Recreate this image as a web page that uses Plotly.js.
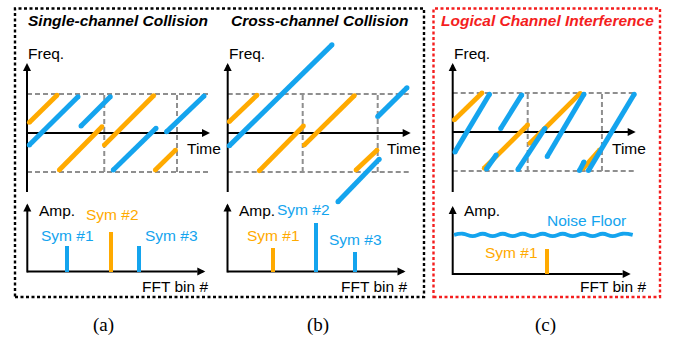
<!DOCTYPE html>
<html>
<head>
<meta charset="utf-8">
<script src="https://cdn.plot.ly/plotly-3.0.1.min.js"></script>
<style>html,body{margin:0;padding:0;background:#fff;}#chart{width:677px;height:337px;}</style>
</head>
<body>
<div id="chart"></div>
<script>
// ---------------- DATA ----------------
// Time in symbol durations, frequency normalised to the channel bandwidth (-1..1)
// Each chirp segment: [start, end]

// (a) Single-channel collision
const aOrangeT = [[0.03,0.40],[0.43,1.00],[1.03,1.69],[1.71,1.98]];
const aOrangeF = [[0.27,0.97],[-0.95,0.16],[-0.31,0.96],[-0.95,-0.44]];
const aBlueT   = [[0.03,0.68],[0.72,1.11],[1.15,1.72],[1.86,2.36]];
const aBlueF   = [[-0.31,0.93],[0.18,0.93],[-0.95,0.12],[0.03,0.95]];
const aSymbolEdges = [1.03, 2.0];

// (b) Cross-channel collision
const bOrangeT = [[0.02,0.39],[0.42,1.01],[1.02,1.69],[1.71,1.99]];
const bOrangeF = [[0.29,0.97],[-0.97,0.18],[-0.31,0.96],[-0.95,-0.44]];
const bBlueT   = [[0.02,1.39],[1.47,2.02],[2.00,2.39]];
const bBlueF   = [[-0.33,2.26],[-1.76,-0.67],[0.42,1.16]];
const bSymbolEdges = [1.0, 2.0];

// (c) Logical channel interference
const cOrangeT = [[0.02,0.39],[0.42,1.00],[1.03,1.70],[1.74,1.96]];
const cOrangeF = [[0.31,1.00],[-0.93,0.18],[-0.29,0.99],[-0.93,-0.46]];
const cBlueT   = [[0.03,0.49],[0.64,0.92],[0.45,0.58],[0.87,1.23],[1.26,1.75],[1.69,1.75],[1.81,2.42]];
const cBlueF   = [[-0.51,0.97],[0.09,0.95],[-0.95,-0.59],[-0.96,0.09],[-0.63,0.97],[-0.99,-0.77],[-0.99,0.97]];
const cSymbolEdges = [1.0, 1.99];

// FFT peaks: bin index and normalised amplitude
const aFftBins = [20, 42, 56];
const aFftAmp  = [0.38, 0.585, 0.38];
const aFftLabels = ['Sym #1','Sym #2','Sym #3'];
const bFftBins = [22.6, 44.3, 63.8];
const bFftAmp  = [0.35, 0.72, 0.28];
const bFftLabels = ['Sym #1','Sym #2','Sym #3'];
const cFftBins = [47];
const cFftAmp  = [0.37];
const cFftLabels = ['Sym #1'];
const noiseBins = [0.7,5,10,15,20,25,30,35,40,45,50,55,60,65,70,75,80,85,90];
const noiseAmp  = [0.575,0.592,0.558,0.592,0.558,0.592,0.558,0.592,0.558,0.592,0.558,0.592,0.558,0.592,0.558,0.592,0.558,0.592,0.575];

const panelTitles = ['Single-channel Collision','Cross-channel Collision','Logical Channel Interference'];
const panelTags = ['(a)','(b)','(c)'];

// ---------------- STYLE / GEOMETRY ----------------
const W = 677, H = 337;
const BLUE = '#14A4EE', ORANGE = '#FFAA00', RED = '#F41E1E', GRAY = '#8f8f8f';
const FONT = 'Liberation Sans, Arial, sans-serif';
const PT = 75, PF = 39;      // px per symbol, px per unit frequency
const PB = 2, PA = 68;       // px per bin, px per unit amplitude
const hidden = {showgrid:false, zeroline:false, showline:false, showticklabels:false, ticks:'', fixedrange:true};

const layout = {
  width: W, height: H, margin:{l:0,r:0,t:0,b:0},
  paper_bgcolor:'#fff', plot_bgcolor:'rgba(0,0,0,0)',
  showlegend:false, shapes:[], annotations:[], bargap:0
};
const traces = [];

function addAxes(n, ox, oy, pxL, pxR, pxT, pxB, sx, sy){
  const xs = n===1 ? '' : String(n);
  layout['xaxis'+xs] = Object.assign({domain:[pxL/W, pxR/W], range:[(pxL-ox)/sx,(pxR-ox)/sx], anchor:'y'+xs}, hidden);
  layout['yaxis'+xs] = Object.assign({domain:[1-pxB/H, 1-pxT/H], range:[(oy-pxB)/sy,(oy-pxT)/sy], anchor:'x'+xs}, hidden);
  return {xa:'x'+xs, ya:'y'+xs};
}

function segTrace(T, F, color, ax, width){
  const x = [], y = [];
  T.forEach((t,i)=>{ x.push(t[0],t[1],null); y.push(F[i][0],F[i][1],null); });
  traces.push({type:'scatter', mode:'lines+markers', x, y, xaxis:ax.xa, yaxis:ax.ya,
    line:{color, width}, marker:{color, size:width}, hoverinfo:'skip', cliponaxis:false});
}

function line(ax, x0,y0,x1,y1, style){
  layout.shapes.push(Object.assign({type:'line', xref:ax.xa, yref:ax.ya, x0,y0,x1,y1, layer:'below'}, style));
}
function arrowHead(ax, x, y, dx, dy){
  layout.annotations.push({xref:ax.xa, yref:ax.ya, x, y, text:' ', font:{size:1}, showarrow:true,
    arrowhead:2, arrowsize:0.8, arrowwidth:2, arrowcolor:'#000', ax:dx, ay:dy, standoff:0});
}
function label(ax, x, y, text, color, anchor){
  layout.annotations.push({xref:ax.xa, yref:ax.ya, x, y, text, showarrow:false, xanchor:anchor||'center', yanchor:'middle',
    font:{family:FONT, size:15.5, color:color||'#000'}});
}

function chirpPanel(n, ox, oy, pxL, pxR, oT, oF, bT, bF, edges){
  const ax = addAxes(n, ox, oy, pxL, pxR, 36, 208, PT, PF);
  const tEnd = 2.42, tTip = 2.44, fTip = (oy-63)/PF, fBot = (oy-192)/PF;
  const dash = {line:{color:GRAY, width:2, dash:'5px,3px'}};
  line(ax, 0, 1, tEnd, 1, dash);
  line(ax, 0, -1, tEnd, -1, dash);
  edges.forEach(e=> line(ax, e, -1, e, 1, dash));
  const solid = {line:{color:'#000', width:2}};
  line(ax, 0, fBot, 0, fTip-0.1, solid);
  line(ax, 0, 0, tTip-0.08, 0, solid);
  arrowHead(ax, 0, fTip, 0, 9);
  arrowHead(ax, tTip, 0, -9, 0);
  label(ax, -0.01, (oy-53)/PF, 'Freq.', '#000', 'left');
  label(ax, 2.10, (oy-148)/PF, 'Time', '#000', 'left');
  segTrace(oT, oF, ORANGE, ax, 4.8);
  segTrace(bT, bF, BLUE, ax, 5);
  return ax;
}

function fftPanel(n, ox, oy, pxL, pxR, bins, amps, colors, labelRight){
  const ax = addAxes(n, ox, oy, pxL, pxR, 190, 302, PB, PA);
  const solid = {line:{color:'#000', width:2}};
  line(ax, 0, -0.015, 0, 0.95, solid);
  line(ax, 0, 0, 85, 0, solid);
  arrowHead(ax, 0, 1.0, 0, 9);
  arrowHead(ax, 89, 0, -9, 0);
  label(ax, 4.6, (oy-210)/PA, 'Amp.', '#000', 'left');
  label(ax, labelRight, (oy-286)/PA, 'FFT bin #', '#000', 'right');
  traces.push({type:'bar', x:bins, y:amps, width:2, xaxis:ax.xa, yaxis:ax.ya,
    marker:{color:colors, line:{width:0}}, hoverinfo:'skip'});
  return ax;
}

// ---------------- PANELS ----------------
chirpPanel(1, 27, 133, 16, 224, aOrangeT, aOrangeF, aBlueT, aBlueF, aSymbolEdges);
chirpPanel(2, 227.7, 133, 216, 424, bOrangeT, bOrangeF, bBlueT, bBlueF, bSymbolEdges);
chirpPanel(3, 452.7, 132, 442, 650, cOrangeT, cOrangeF, cBlueT, cBlueF, cSymbolEdges);

const fa = fftPanel(4, 27.3, 271.5, 16, 224, aFftBins, aFftAmp, [BLUE,ORANGE,BLUE], 91.4);
label(fa, 20.1, 0.535, aFftLabels[0], BLUE);
label(fa, 42.4, 0.84, aFftLabels[1], ORANGE);
label(fa, 71.9, 0.535, aFftLabels[2], BLUE);

const fb = fftPanel(5, 227.5, 271.5, 216, 424, bFftBins, bFftAmp, [ORANGE,BLUE,BLUE], 90.8);
label(fb, 23.2, 0.535, bFftLabels[0], ORANGE);
label(fb, 38.2, 0.905, bFftLabels[1], BLUE);
label(fb, 63.8, 0.475, bFftLabels[2], BLUE);

const fc = fftPanel(6, 452.7, 274, 442, 660, cFftBins, cFftAmp, [ORANGE], 97.6);
label(fc, 29.6, 0.31, cFftLabels[0], ORANGE);
label(fc, 66.8, 0.785, 'Noise Floor', BLUE);
traces.push({type:'scatter', mode:'lines', x:noiseBins, y:noiseAmp, xaxis:fc.xa, yaxis:fc.ya,
  line:{color:BLUE, width:3.8, shape:'spline', smoothing:1.3}, hoverinfo:'skip'});

// ---------------- FRAMES & TITLES ----------------
layout.shapes.push({type:'rect', xref:'paper', yref:'paper', x0:15/W, x1:424/W, y0:1-297/H, y1:1-8.5/H,
  line:{color:'#000', width:2.4, dash:'3px,2.5px'}});
layout.shapes.push({type:'rect', xref:'paper', yref:'paper', x0:433.5/W, x1:660/W, y0:1-297/H, y1:1-8.5/H,
  line:{color:RED, width:2.4, dash:'3px,2.5px'}});

const titleX = [118, 319, 547], titleColor = ['#000','#000',RED];
panelTitles.forEach((t,i)=>{
  layout.annotations.push({xref:'paper', yref:'paper', x:titleX[i]/W, y:1-20.5/H, text:'<b><i>'+t+'</i></b>',
    showarrow:false, xanchor:'center', yanchor:'middle', font:{family:FONT, size:15.5, color:titleColor[i]}});
});
const tagX = [103, 318, 545];
panelTags.forEach((t,i)=>{
  layout.annotations.push({xref:'paper', yref:'paper', x:tagX[i]/W, y:1-324.5/H, text:t,
    showarrow:false, xanchor:'center', yanchor:'middle', font:{family:'Liberation Serif, Times New Roman, serif', size:19, color:'#000'}});
});

Plotly.newPlot('chart', traces, layout, {staticPlot:true, displayModeBar:false});
</script>
</body>
</html>
